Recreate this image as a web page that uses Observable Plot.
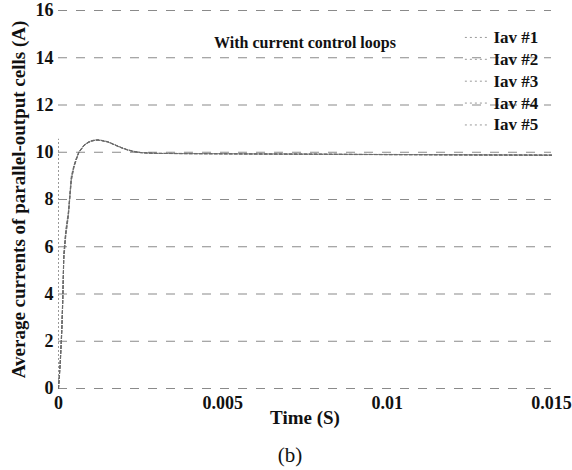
<!DOCTYPE html>
<html>
<head>
<meta charset="utf-8">
<script src="https://cdn.jsdelivr.net/npm/d3@7"></script>
<script src="https://cdn.jsdelivr.net/npm/@observablehq/plot@0.6"></script>
<style>
  html, body { margin: 0; padding: 0; background: #fff; }
  #chart { width: 572px; height: 440px; }
  #caption { position: relative; width: 572px; height: 30px; font-family: "Liberation Serif", serif; font-size: 21px; color: #111; }
  #caption span { position: absolute; left: 290px; top: 15px; transform: translate(-50%, -50%); line-height: 1; }
</style>
</head>
<body>
<div id="chart"></div>
<div id="caption"><span id="captext"></span></div>
<script>
const title = "With current control loops";
const xLabel = "Time (S)";
const yLabel = "Average currents of parallel-output cells (A)";
const caption = "(b)";
const xTicks = [0, 0.005, 0.01, 0.015];
const xTickLabels = ["0", "0.005", "0.01", "0.015"];
const yTicks = [0, 2, 4, 6, 8, 10, 12, 14, 16];
const seriesNames = ["Iav #1", "Iav #2", "Iav #3", "Iav #4", "Iav #5"];
const axisTop = 10.55;

const time = [0, 0.00003, 0.00006, 0.0001, 0.00013, 0.00016, 0.00022, 0.0003, 0.00039, 0.00047, 0.00055, 0.00062, 0.0007, 0.00078, 0.0009, 0.001, 0.0011, 0.0012, 0.0013, 0.0015, 0.0017, 0.0019, 0.0021, 0.0023, 0.0025, 0.0028, 0.003, 0.004, 0.005, 0.006, 0.007, 0.008, 0.009, 0.01, 0.011, 0.012, 0.013, 0.014, 0.015];
const iav1 = [0, 0.6, 1.3, 2.5, 3.8, 5.6, 6.6, 7.4, 8.9, 9.4, 9.75, 10.0, 10.15, 10.3, 10.42, 10.48, 10.51, 10.52, 10.5, 10.44, 10.32, 10.2, 10.1, 10.03, 9.99, 9.96, 9.95, 9.94, 9.94, 9.93, 9.92, 9.92, 9.91, 9.9, 9.9, 9.89, 9.89, 9.88, 9.88];
const iav2 = [0, 0.5, 1.2, 2.4, 3.7, 5.5, 6.5, 7.3, 8.8, 9.35, 9.7, 9.98, 10.13, 10.28, 10.4, 10.46, 10.5, 10.51, 10.49, 10.43, 10.31, 10.19, 10.09, 10.02, 9.98, 9.96, 9.95, 9.94, 9.93, 9.93, 9.92, 9.91, 9.91, 9.9, 9.9, 9.89, 9.88, 9.88, 9.87];
const iav3 = [0, 0.7, 1.4, 2.6, 3.9, 5.7, 6.7, 7.5, 9.0, 9.45, 9.78, 10.02, 10.17, 10.31, 10.43, 10.49, 10.52, 10.53, 10.51, 10.45, 10.33, 10.21, 10.11, 10.04, 9.99, 9.97, 9.96, 9.95, 9.94, 9.93, 9.93, 9.92, 9.91, 9.91, 9.9, 9.9, 9.89, 9.89, 9.88];
const iav4 = [0, 0.6, 1.2, 2.3, 3.6, 5.4, 6.4, 7.3, 8.8, 9.4, 9.72, 9.99, 10.14, 10.29, 10.41, 10.47, 10.5, 10.51, 10.5, 10.44, 10.32, 10.2, 10.1, 10.03, 9.98, 9.96, 9.95, 9.94, 9.93, 9.92, 9.92, 9.91, 9.9, 9.9, 9.89, 9.89, 9.88, 9.88, 9.87];
const iav5 = [0, 0.6, 1.3, 2.5, 3.8, 5.6, 6.6, 7.4, 8.9, 9.42, 9.76, 10.01, 10.16, 10.3, 10.42, 10.48, 10.51, 10.52, 10.5, 10.44, 10.32, 10.2, 10.1, 10.03, 9.99, 9.96, 9.95, 9.94, 9.94, 9.93, 9.92, 9.92, 9.91, 9.9, 9.9, 9.89, 9.89, 9.88, 9.88];

const seriesValues = [iav1, iav2, iav3, iav4, iav5];
const rows = [];
seriesNames.forEach((name, k) => {
  time.forEach((t, i) => rows.push({series: name, t, v: seriesValues[k][i]}));
});

// legend entries (placed in data space at the upper right)
const legendX0 = 0.01238, legendX1 = 0.01308, legendTop = 14.86, legendStep = 0.926;
const legend = seriesNames.map((name, i) => ({name, y: legendTop - i * legendStep}));

const font = "'Liberation Serif', 'Times New Roman', serif";

const chart = Plot.plot({
  width: 572,
  height: 440,
  marginLeft: 58,
  marginRight: 21,
  marginTop: 10,
  marginBottom: 52,
  style: {fontFamily: font, fontSize: "18px", fontWeight: "bold", color: "#111", background: "#fff", overflow: "visible"},
  x: {domain: [0, 0.015], label: null},
  y: {domain: [0, 16], label: null},
  marks: [
    Plot.ruleY(yTicks, {stroke: "#8a8a8a", strokeWidth: 1.2, strokeDasharray: "9,9"}),
    Plot.ruleX([0], {y1: 0, y2: axisTop, stroke: "#999", strokeWidth: 1, strokeDasharray: "2,2"}),
    Plot.line(rows, {x: "t", y: "v", z: "series", stroke: "#6a6a6a", strokeWidth: 1, strokeDasharray: "3,2", strokeOpacity: 0.8}),
    Plot.ruleY(legend, {x1: legendX0, x2: legendX1, y: "y", stroke: "#999", strokeWidth: 1, strokeDasharray: "2,3"}),
    Plot.text(legend, {x: legendX1, y: "y", text: "name", textAnchor: "start", dx: 5, fontSize: 17, fontWeight: "bold", fill: "#111"}),
    Plot.text([title], {frameAnchor: "top", dy: 26, fontSize: 16, fontWeight: "bold", fill: "#111"}),
    Plot.text([xLabel], {frameAnchor: "bottom", dy: 35, fontSize: 19, fontWeight: "bold", fill: "#111"}),
    Plot.text([yLabel], {frameAnchor: "left", dx: -40, rotate: -90, textAnchor: "middle", fontSize: 19, fontWeight: "bold", fill: "#111"}),
    Plot.axisX(xTicks, {tickSize: 0, tickPadding: 8, tickFormat: (d, i) => xTickLabels[i], fontSize: 18, fontWeight: "bold"}),
    Plot.axisY(yTicks, {tickSize: 0, tickPadding: 5, fontSize: 18, fontWeight: "bold"})
  ]
});
document.getElementById("chart").appendChild(chart);
document.getElementById("captext").textContent = caption;
</script>
</body>
</html>
